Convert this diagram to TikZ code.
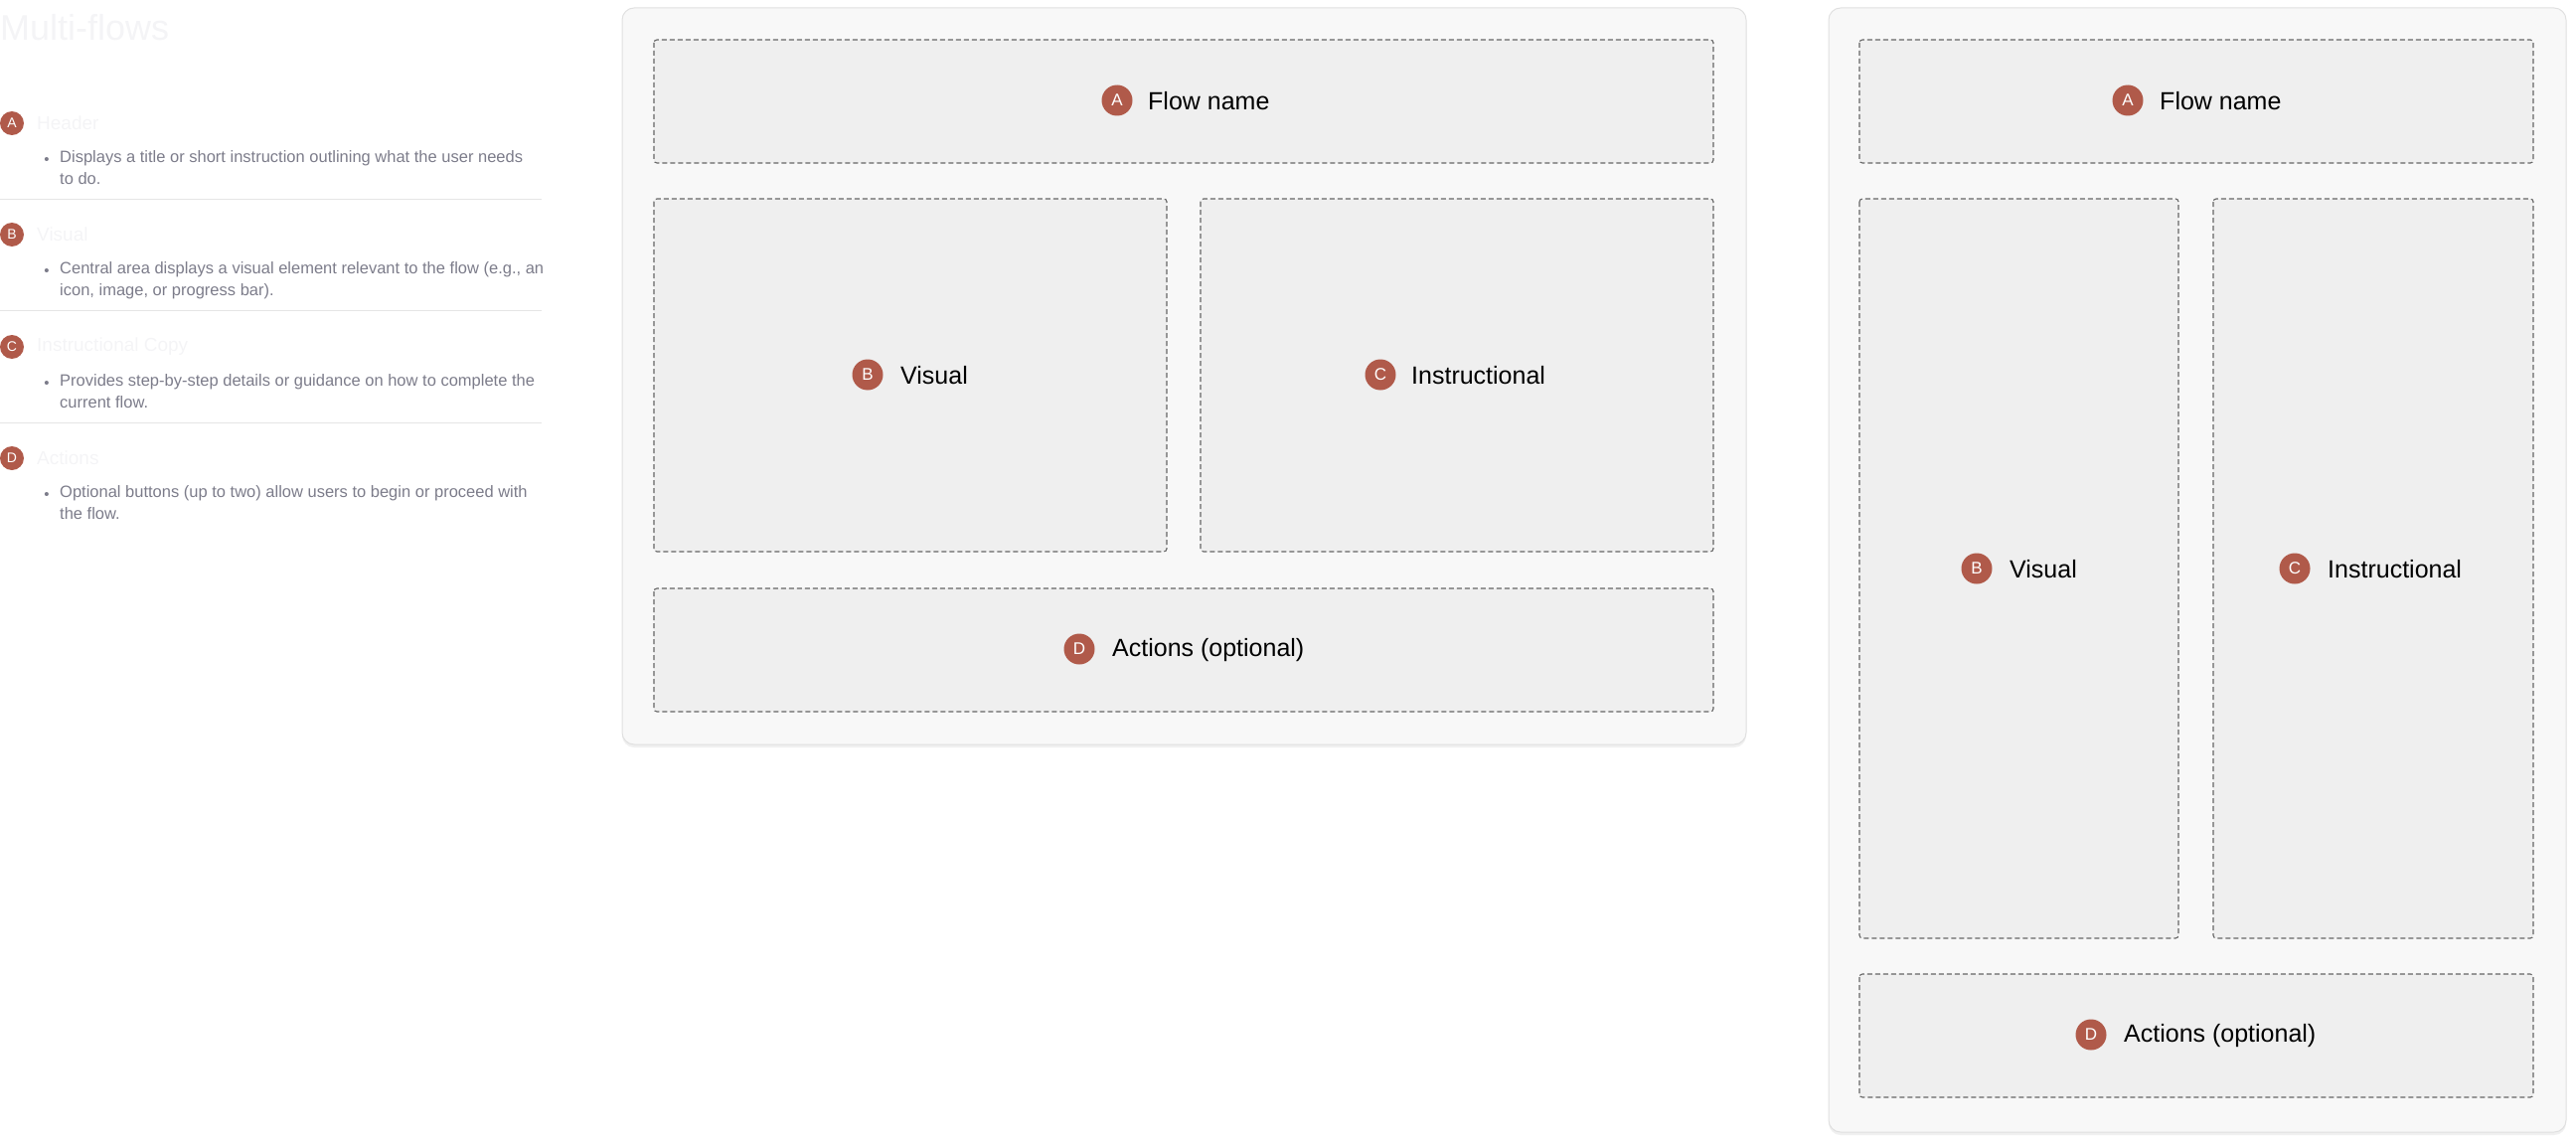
\documentclass[tikz,border=0pt]{standalone}
\usepackage{fontspec}
\setmainfont{Liberation Sans}
\usetikzlibrary{shadows}
\definecolor{badge}{HTML}{B05A4A}
\definecolor{boxfill}{HTML}{EFEFEF}
\definecolor{panelfill}{HTML}{F8F8F8}
\definecolor{bodytxt}{HTML}{7C7C8A}
\definecolor{faint}{HTML}{F4F4F6}
\begin{document}
\begin{tikzpicture}[x=1pt,y=-1pt,
  panel/.style={draw=black!12,fill=panelfill,rounded corners=12pt,line width=1pt,drop shadow={opacity=0.12,shadow xshift=0pt,shadow yshift=-3pt}},
  zone/.style={draw=black!60,dashed,fill=boxfill,line width=1.1pt,rounded corners=3pt,dash pattern=on 5pt off 3pt},
  badge/.style={circle,fill=badge,text=white,minimum size=31pt,inner sep=0pt,font=\fontsize{17}{17}\selectfont},
  sbadge/.style={circle,fill=badge,text=white,minimum size=24pt,inner sep=0pt,font=\fontsize{14}{14}\selectfont},
  lbl/.style={anchor=west,font=\fontsize{25}{25}\selectfont,inner sep=0pt},
  body/.style={anchor=north west,align=left,text=bodytxt,font=\fontsize{16.5}{22}\selectfont,inner sep=0pt},
  head/.style={anchor=west,text=faint,font=\fontsize{19}{19}\selectfont,inner sep=0pt},
  sep/.style={draw=black!10,line width=1pt}]
\useasboundingbox (0,0) rectangle (2592,1153);
% left text
\node[anchor=west,text=faint,font=\fontsize{36}{36}\selectfont,inner sep=0pt] (title) at (0,28) {Multi-flows};
\foreach \y/\L/\H/\T [count=\i] in {
 124/A/Header/{Displays a title or short instruction outlining what the user needs\\to do.},
 236/B/Visual/{Central area displays a visual element relevant to the flow (e.g., an\\icon, image, or progress bar).},
 349/C/Instructional Copy/{Provides step-by-step details or guidance on how to complete the\\current flow.},
 461/D/Actions/{Optional buttons (up to two) allow users to begin or proceed with\\the flow.}}{
  \node[sbadge] (lb\i) at (12,\y) {\L};
  \node[head] (lh\i) at (37,\y) {\H};
  \node[text=bodytxt,font=\fontsize{15}{15}\selectfont,inner sep=0pt] (lbul\i) at (47,\y+38) {•};
  \node[body] (lt\i) at (60,\y+27) {\T};
}
\foreach \y [count=\i] in {200,312,425}{\draw[sep] (0,\y) -- (545,\y);}
% panel 1
\filldraw[panel] (626,8) rectangle (1757,749);
\draw[zone] (658,40) rectangle (1724,164);
\draw[zone] (658,200) rectangle (1174,555);
\draw[zone] (1208,200) rectangle (1724,555);
\draw[zone] (658,592) rectangle (1724,716);
\node[badge] (a1) at (1124,101) {A}; \node[lbl] (ta1) at (1155,102) {Flow name};
\node[badge] (b1) at (873,377) {B}; \node[lbl] (tb1) at (906,378) {Visual};
\node[badge] (c1) at (1389,377) {C}; \node[lbl] (tc1) at (1420,378) {Instructional};
\node[badge] (d1) at (1086,653) {D}; \node[lbl] (td1) at (1119,654) {Actions (optional)};
% panel 2
\filldraw[panel] (1840,8) rectangle (2582,1139);
\draw[zone] (1871,40) rectangle (2549,164);
\draw[zone] (1871,200) rectangle (2192,944);
\draw[zone] (2227,200) rectangle (2549,944);
\draw[zone] (1871,980) rectangle (2549,1104);
\node[badge] (a2) at (2141,101) {A}; \node[lbl] (ta2) at (2173,102) {Flow name};
\node[badge] (b2) at (1989,572) {B}; \node[lbl] (tb2) at (2022,573) {Visual};
\node[badge] (c2) at (2309,572) {C}; \node[lbl] (tc2) at (2342,573) {Instructional};
\node[badge] (d2) at (2104,1041) {D}; \node[lbl] (td2) at (2137,1042) {Actions (optional)};
\end{tikzpicture}
\end{document}
